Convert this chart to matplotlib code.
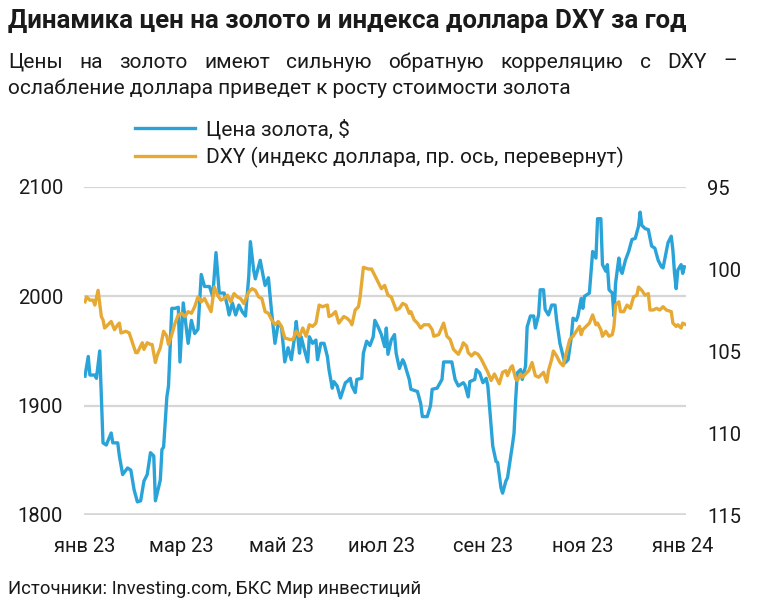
import matplotlib
matplotlib.use("Agg")
import matplotlib.pyplot as plt
import pandas as pd

plt.rcParams['font.family'] = ['Roboto', 'DejaVu Sans']

# gold price, $ (day offset from 1 Jan 2023, value)
gold_days = [0, 2, 3, 6, 7, 9, 11, 13, 16, 17, 20, 21, 23, 26, 28, 30, 32, 34, 36, 38,
             40, 42, 43, 46, 47, 48, 50, 51, 53, 55, 57, 58, 60, 63, 65, 67, 69, 71, 73, 76,
             78, 80, 82, 85, 87, 88, 90, 92, 94, 96, 98, 100, 101, 103, 104, 107, 109, 110, 112, 114,
             116, 118, 120, 122, 124, 126, 128, 129, 131, 132, 134, 136, 137, 139, 141, 142, 144, 146, 148, 149,
             151, 152, 154, 156, 159, 160, 162, 163, 165, 166, 169, 170, 172, 174, 176, 177, 179, 181, 183, 184,
             185, 187, 189, 190, 192, 194, 195, 198, 199, 203, 205, 206, 209, 211, 212, 215, 218, 219, 224, 226,
             228, 231, 232, 234, 235, 238, 239, 241, 243, 245, 246, 248, 249, 251, 252, 254, 255, 257, 258, 260,
             261, 262, 263, 264, 266, 267, 269, 270, 272, 274, 275, 277, 278, 280, 281, 283, 285, 287, 288, 290,
             291, 293, 295, 297, 298, 300, 301, 303, 304, 305, 308, 310, 312, 313, 315, 316, 318, 319, 320, 322,
             323, 324, 326, 327, 328, 330, 332, 334, 336, 338, 339, 340, 342, 344, 346, 348, 350, 352, 353, 355,
             356, 358, 359, 360, 361, 362, 364, 365, 366]
gold = [1927, 1945, 1928, 1928, 1925, 1950, 1866, 1864, 1875, 1866, 1866, 1854, 1837, 1843, 1841, 1823, 1812, 1813, 1831, 1837,
        1857, 1854, 1813, 1832, 1860, 1862, 1908, 1918, 1989, 1989, 1990, 1940, 1994, 1957, 1978, 1966, 1970, 2020, 2009, 2009,
        2000, 2040, 2003, 2003, 1991, 1983, 1994, 1983, 1992, 1986, 1982, 2018, 2050, 2024, 2016, 2033, 2017, 2010, 2017, 1985,
        1957, 1975, 1972, 1940, 1953, 1942, 1963, 1977, 1948, 1963, 1951, 1940, 1963, 1957, 1960, 1942, 1957, 1957, 1945, 1933,
        1916, 1922, 1918, 1907, 1921, 1922, 1925, 1918, 1912, 1924, 1925, 1948, 1959, 1955, 1963, 1978, 1972, 1965, 1954, 1971,
        1947, 1960, 1965, 1948, 1934, 1942, 1939, 1924, 1915, 1913, 1902, 1890, 1890, 1900, 1915, 1916, 1924, 1940, 1940, 1924,
        1918, 1921, 1919, 1908, 1922, 1924, 1933, 1930, 1921, 1925, 1918, 1881, 1863, 1849, 1848, 1825, 1820, 1831, 1834, 1854,
        1864, 1875, 1906, 1930, 1933, 1924, 1936, 1972, 1982, 1982, 1971, 1983, 2006, 2006, 1988, 1983, 1992, 1992, 1978, 1957,
        1951, 1939, 1942, 1963, 1980, 1978, 1982, 1998, 1989, 2000, 2003, 2041, 2035, 2071, 2071, 2029, 2023, 2029, 2006, 2003,
        1982, 2012, 2035, 2024, 2021, 2033, 2041, 2052, 2053, 2064, 2077, 2065, 2062, 2061, 2046, 2044, 2033, 2027, 2026, 2041,
        2049, 2055, 2042, 2021, 2007, 2024, 2029, 2021, 2027]

# DXY index (right axis, inverted)
dxy_days = [0, 1, 3, 5, 6, 8, 10, 11, 12, 14, 16, 18, 20, 21, 22, 25, 27, 29, 31, 32,
            34, 35, 36, 38, 40, 41, 43, 44, 46, 48, 50, 51, 53, 55, 57, 59, 61, 63, 65, 67,
            69, 71, 73, 76, 77, 79, 81, 83, 85, 87, 89, 91, 93, 95, 97, 100, 102, 104, 106, 108,
            110, 112, 114, 116, 118, 120, 122, 125, 127, 129, 131, 133, 135, 137, 139, 141, 143, 145, 148, 149,
            151, 153, 155, 158, 160, 162, 163, 165, 167, 168, 170, 173, 175, 177, 179, 181, 183, 185, 187, 190,
            192, 194, 196, 198, 199, 201, 203, 205, 207, 210, 212, 213, 216, 219, 221, 223, 225, 228, 230, 231,
            233, 234, 236, 238, 240, 242, 244, 246, 248, 250, 252, 253, 255, 257, 258, 260, 261, 263, 264, 266,
            267, 269, 271, 273, 275, 277, 279, 280, 282, 283, 285, 286, 288, 290, 292, 294, 296, 298, 300, 302,
            303, 304, 306, 308, 310, 312, 313, 315, 316, 318, 320, 322, 323, 324, 326, 327, 329, 331, 333, 335,
            337, 338, 340, 342, 344, 345, 347, 349, 351, 353, 355, 358, 359, 361, 362, 364, 365, 367]
dxy = [102.0, 101.7, 101.9, 101.9, 102.2, 101.3, 102.9, 103.1, 103.6, 103.4, 103.2, 103.7, 103.4, 103.3, 103.9, 103.8, 103.9, 104.5, 105.1, 105.1,
       104.7, 104.5, 104.9, 104.5, 104.6, 104.6, 105.7, 105.3, 104.8, 103.8, 104.1, 104.6, 104.0, 103.3, 102.8, 102.7, 102.9, 102.6, 102.7, 102.3,
       101.7, 102.0, 101.8, 102.4, 102.6, 101.1, 101.6, 101.9, 101.8, 101.6, 102.0, 101.5, 101.7, 101.8, 102.1, 101.4, 101.2, 101.3, 101.7, 101.8,
       102.6, 102.7, 103.1, 103.4, 103.2, 103.5, 104.2, 104.3, 104.3, 103.8, 104.1, 103.6, 104.1, 103.4, 103.5, 103.3, 102.2, 102.3, 102.2, 102.9,
       102.8, 102.6, 103.3, 102.9, 103.0, 103.2, 103.4, 102.5, 102.3, 101.7, 99.9, 100.0, 100.0, 100.4, 100.8, 101.2, 101.0, 101.6, 101.7, 102.5,
       102.4, 102.1, 102.2, 102.7, 102.6, 103.1, 103.3, 103.6, 103.4, 103.4, 103.7, 104.1, 104.0, 103.3, 104.1, 104.3, 104.9, 105.2, 104.8, 104.5,
       104.7, 105.1, 105.3, 105.1, 105.2, 105.5, 105.9, 106.3, 106.8, 106.4, 106.8, 107.0, 106.3, 106.2, 106.5, 106.0, 105.9, 106.7, 106.8, 106.4,
       106.6, 106.4, 106.2, 105.7, 106.5, 106.6, 106.4, 106.3, 106.9, 106.2, 105.5, 105.0, 105.3, 105.7, 105.9, 105.1, 104.3, 104.1, 103.8, 103.5,
       104.0, 103.7, 103.5, 103.3, 102.8, 103.4, 103.3, 103.7, 104.1, 103.8, 104.1, 104.0, 103.5, 102.2, 102.0, 102.6, 102.6, 102.2, 102.4, 101.7,
       101.6, 101.1, 101.3, 101.6, 101.5, 102.5, 102.5, 102.4, 102.5, 102.3, 102.5, 102.6, 103.3, 103.5, 103.4, 103.6, 103.3, 103.4]

tick_dates = ['2023-01-01', '2023-03-01', '2023-05-01', '2023-07-01', '2023-09-01', '2023-11-01', '2024-01-01']
tick_labels = ['янв 23', 'мар 23', 'май 23', 'июл 23', 'сен 23', 'ноя 23', 'янв 24']
gold_ticks = [1800, 1900, 2000, 2100]
dxy_ticks = [95, 100, 105, 110, 115]

title = 'Динамика цен на золото и индекса доллара DXY за год'
subtitle1 = 'Цены на золото имеют сильную обратную корреляцию с DXY –'
subtitle2 = 'ослабление доллара приведет к росту стоимости золота'
source = 'Источники: Investing.com, БКС Мир инвестиций'

BLUE = '#2aa3d8'
ORANGE = '#e6a934'
GRID = '#d6d6d6'
TEXT = '#1a1a1a'

start = pd.Timestamp('2023-01-01')
gold_x = start + pd.to_timedelta(gold_days, unit='D')
dxy_x = start + pd.to_timedelta(dxy_days, unit='D')

W, H = 758, 613
fig = plt.figure(figsize=(W / 100, H / 100), dpi=100)
ax = fig.add_axes([84 / W, 1 - 515 / H, (686 - 84) / W, (515 - 187) / H])
ax2 = ax.twinx()

l1, = ax.plot(gold_x, gold, color=BLUE, lw=2.4, label='Цена золота, $', solid_joinstyle='round')
l2, = ax2.plot(dxy_x, dxy, color=ORANGE, lw=2.4, label='DXY (индекс доллара, пр. ось, перевернут)',
               solid_joinstyle='round')

ax.set_ylim(1800, 2100)
ax2.set_ylim(115, 95)
ax.set_yticks(gold_ticks)
ax2.set_yticks(dxy_ticks)
ax.set_xlim(start - pd.Timedelta(days=0.6), start + pd.Timedelta(days=367))
ax.set_xticks(pd.to_datetime(tick_dates))
ax.set_xticklabels(tick_labels)

for a in (ax, ax2):
    for s in a.spines.values():
        s.set_visible(False)
    a.tick_params(length=0, labelsize=14.5, colors=TEXT)
ax.tick_params(axis='y', pad=15)
ax2.tick_params(axis='y', pad=15)
ax.tick_params(axis='x', pad=16)
for v in gold_ticks:
    ax.axhline(v, color=GRID, lw=1.6 if v > 1800 else 2.6, zorder=0)

fig.legend(handles=[l1, l2], loc='upper left', bbox_to_anchor=(135 / W, 1 - 119 / H),
           frameon=False, fontsize=15, handlelength=2.9, handletextpad=0.5,
           labelspacing=0.35, borderpad=0, borderaxespad=0, labelcolor=TEXT)

fig.text(8 / W, 1 - 21 / H, title, fontsize=18.6, fontweight='bold', color=TEXT, va='center', ha='left')

# justified first subtitle line
r = fig.canvas.get_renderer()
words = subtitle1.split(' ')
objs = [fig.text(0, 1 - 62 / H, w, fontsize=15, color=TEXT, va='center', ha='left') for w in words]
widths = [o.get_window_extent(r).width for o in objs]
gap = (737 - 8 - sum(widths)) / (len(words) - 1)
xpos = 8
for o, w in zip(objs, widths):
    o.set_x(xpos / W)
    xpos += w + gap
fig.text(8 / W, 1 - 88 / H, subtitle2, fontsize=15, color=TEXT, va='center', ha='left')

fig.text(8 / W, 1 - 589 / H, source, fontsize=13.3, color=TEXT, va='center', ha='left')

fig.savefig('out.png', dpi=100, facecolor='white')
